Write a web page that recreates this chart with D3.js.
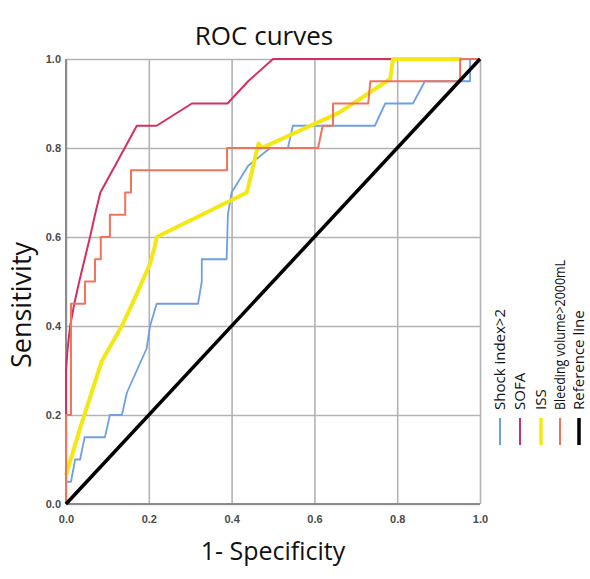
<!DOCTYPE html>
<html>
<head>
<meta charset="utf-8">
<script src="https://cdn.jsdelivr.net/npm/d3@7"></script>
<style>
  body { margin: 0; background: #fff; }
  text { font-family: "Open Sans", "Noto Sans", sans-serif; }
</style>
</head>
<body>
<div id="chart"></div>
<script>
// series: [1 - specificity, sensitivity]
var shockIndex = [[0,0],[0,0.05],[0.012,0.05],[0.022,0.1],[0.034,0.1],[0.045,0.15],[0.094,0.15],[0.106,0.2],[0.135,0.2],
    [0.147,0.25],[0.195,0.35],[0.203,0.4],[0.219,0.45],[0.319,0.45],[0.328,0.5],[0.328,0.55],[0.388,0.55],[0.391,0.65],
    [0.4,0.7],[0.44,0.76],[0.493,0.8],[0.536,0.8],[0.548,0.85],[0.746,0.85],[0.771,0.9],[0.838,0.9],[0.867,0.95],
    [0.976,0.95],[0.976,1],[1,1]];
var sofa = [[0,0],[0,0.3],[0.004,0.35],[0.01,0.4],[0.02,0.45],[0.032,0.5],[0.045,0.55],[0.058,0.6],[0.07,0.65],
    [0.083,0.7],[0.13,0.78],[0.171,0.85],[0.219,0.85],[0.304,0.9],[0.39,0.9],[0.44,0.95],[0.5,1],[1,1]];
var iss = [[0,0.065],[0.034,0.17],[0.086,0.32],[0.135,0.4],[0.17,0.47],[0.203,0.54],[0.215,0.58],[0.219,0.6],
    [0.437,0.7],[0.465,0.81],[0.473,0.8],[0.661,0.88],[0.783,0.955],[0.79,1],[0.955,1]];
var bleeding = [[0,0],[0,0.2],[0.012,0.2],[0.012,0.45],[0.046,0.45],[0.046,0.5],[0.07,0.5],[0.07,0.55],[0.084,0.55],
    [0.084,0.6],[0.106,0.6],[0.106,0.65],[0.143,0.65],[0.143,0.7],[0.157,0.7],[0.157,0.75],[0.389,0.75],[0.389,0.8],
    [0.609,0.8],[0.62,0.85],[0.645,0.85],[0.645,0.9],[0.73,0.9],[0.735,0.95],[0.952,0.95],[0.952,1],[1,1]];
var reference = [[0,0],[1,1]];

var seriesNames = ["Shock index>2", "SOFA", "ISS", "Bleeding volume>2000mL", "Reference line"];
var seriesData = [shockIndex, sofa, iss, bleeding, reference];
var tickValues = [0, 0.2, 0.4, 0.6, 0.8, 1.0];

var colors = ["#6f9fe6", "#d2305f", "#f4e814", "#f0745c", "#000000"];
var widths = [1.8, 2, 4, 2, 3.5];

var margin = {top: 59, left: 66},
    width = 414,
    height = 445;

var svg = d3.select("#chart")
    .append("svg")
    .attr("width", 590)
    .attr("height", 579);

var g = svg.append("g")
    .attr("transform", "translate(" + margin.left + "," + margin.top + ")");

var x = d3.scaleLinear().domain([0, 1]).range([0, width]);
var y = d3.scaleLinear().domain([0, 1]).range([height, 0]);

// grid + tick labels, using axis ticks stretched across the plot
var yAxis = g.append("g")
    .call(d3.axisLeft(y).tickValues(tickValues).tickFormat(d3.format(".1f")).tickSize(-width).tickPadding(5));
var xAxis = g.append("g")
    .attr("transform", "translate(0," + height + ")")
    .call(d3.axisBottom(x).tickValues(tickValues).tickFormat(d3.format(".1f")).tickSize(-height).tickPadding(11));

[xAxis, yAxis].forEach(function(ax){
    ax.select(".domain").remove();
    ax.selectAll("line").attr("stroke", "#b3b3b3").attr("stroke-width", 1.6);
    ax.selectAll("text")
        .style("font-family", "'Liberation Sans', Arial, sans-serif")
        .style("font-size", "11px")
        .style("font-weight", "bold")
        .attr("fill", "#4a4a4a");
});

// darker left and bottom frame
g.append("line").attr("x1", 0).attr("x2", 0).attr("y1", 0).attr("y2", height)
    .attr("stroke", "#8c8c8c").attr("stroke-width", 2);
g.append("line").attr("x1", 0).attr("x2", width).attr("y1", height).attr("y2", height)
    .attr("stroke", "#8c8c8c").attr("stroke-width", 2);

// curves
var line = d3.line()
    .x(function(d){ return x(d[0]) })
    .y(function(d){ return y(d[1]) });

for (i=0; i<seriesData.length; i++){
    g.append("path")
        .datum(seriesData[i])
        .attr("d", line)
        .attr("fill", "none")
        .attr("stroke", colors[i])
        .attr("stroke-width", widths[i])
        .attr("stroke-linejoin", "round");
}

// title and axis labels
svg.append("text")
    .attr("x", 264)
    .attr("y", 45)
    .attr("text-anchor", "middle")
    .style("font-size", "26px")
    .attr("fill", "#111")
    .text("ROC curves");

svg.append("text")
    .attr("x", 273)
    .attr("y", 560)
    .attr("text-anchor", "middle")
    .style("font-size", "25px")
    .attr("fill", "#111")
    .text("1- Specificity");

svg.append("text")
    .attr("transform", "translate(31,305) rotate(-90)")
    .attr("text-anchor", "middle")
    .style("font-size", "27px")
    .attr("fill", "#111")
    .text("Sensitivity");

// legend: vertical labels with short vertical swatches below them
var legendX = [500, 520, 541, 560, 579];
for (i=0; i<seriesNames.length; i++){
    var lbl = svg.append("text")
        .attr("transform", "translate(" + (legendX[i] + 5) + ",410) rotate(-90)")
        .attr("text-anchor", "start")
        .style("font-size", "15px")
        .attr("fill", "#111")
        .text(seriesNames[i]);
    // the long label is squeezed in the original
    if (i == 3){
        lbl.attr("textLength", 150).attr("lengthAdjust", "spacingAndGlyphs");
    }

    svg.append("line")
        .attr("x1", legendX[i]).attr("x2", legendX[i])
        .attr("y1", 418).attr("y2", 445)
        .attr("stroke", colors[i])
        .attr("stroke-width", i == 2 || i == 4 ? 3.5 : 2);
}
</script>
</body>
</html>
